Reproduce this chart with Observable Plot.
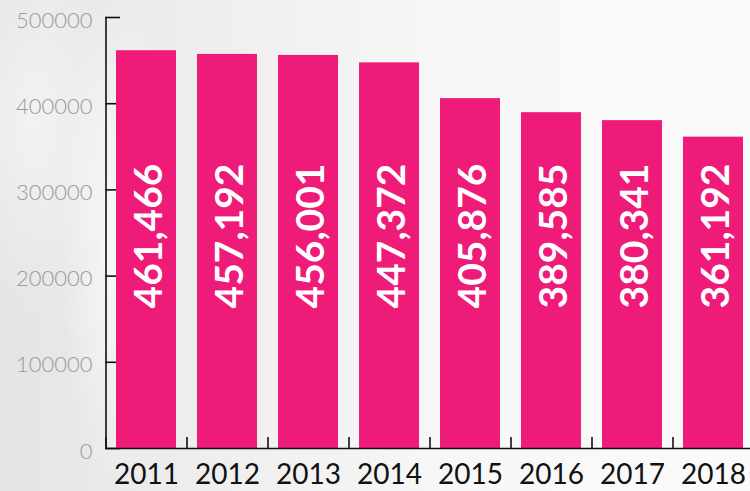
<!DOCTYPE html>
<html>
<head>
<meta charset="utf-8">
<script src="https://cdn.jsdelivr.net/npm/d3@7"></script>
<script src="https://cdn.jsdelivr.net/npm/@observablehq/plot@0.6"></script>
<style>
  html, body { margin: 0; padding: 0; overflow: hidden; }
  #chart {
    width: 750px; height: 491px; position: relative; overflow: hidden;
    background:
      radial-gradient(ellipse 60px 260px at 120px 240px, rgba(255,255,255,0.7), rgba(255,255,255,0) 100%),
      radial-gradient(ellipse 90px 200px at 30px 120px, rgba(255,255,255,0.5), rgba(255,255,255,0) 100%),
      linear-gradient(90deg, #e4e4e4 0px, #eeeeee 200px, #f7f7f7 450px, #fafafa 750px);
  }
  #chart svg { overflow: visible; background: transparent; }
</style>
</head>
<body>
<div id="chart"></div>
<script>
const years = ["2011", "2012", "2013", "2014", "2015", "2016", "2017", "2018"];
const values = [461466, 457192, 456001, 447372, 405876, 389585, 380341, 361192];
const yTicks = [0, 100000, 200000, 300000, 400000, 500000];

const data = years.map((year, i) => ({year, value: values[i]}));

const W = 750, ML = 105, MR = -3;
const step = (W - MR - ML) / years.length;
const pink = "#ee1b79";
const font = "Lato, 'Open Sans', sans-serif";

const plot = Plot.plot({
  width: W,
  height: 491,
  marginLeft: ML,
  marginRight: MR,
  marginTop: 17,
  marginBottom: 43,
  style: {background: "transparent", fontFamily: font},
  x: {domain: years, paddingInner: 0.26, paddingOuter: 0.13, align: 0.5, label: null},
  y: {domain: [0, 500000], label: null},
  marks: [
    // y axis inward ticks
    Plot.axisY({ticks: yTicks, tickSize: -15, tickFormat: () => "", label: null, stroke: "#111", strokeWidth: 1.6}),
    // y tick labels
    Plot.axisY({ticks: yTicks, tickSize: 0, tickPadding: 13, tickFormat: d => String(d), label: null,
      fill: "#9a9a9a", fontSize: 22, fontWeight: 300, dy: 3}),
    // y axis line at left edge of first band
    Plot.ruleX([years[0]], {dx: -step / 2, stroke: "#111", strokeWidth: 1.6}),
    // x boundary ticks pointing up
    Plot.axisX({tickSize: -11, tickFormat: () => "", label: null, dx: -step / 2, stroke: "#111", strokeWidth: 1.6}),
    Plot.barY(data, {x: "year", y: "value", fill: pink}),
    Plot.ruleY([0], {stroke: "#111", strokeWidth: 1.6}),
    // x labels
    Plot.axisX({tickSize: 0, tickPadding: 16, label: null, fill: "#111", fontSize: 28, fontWeight: 400}),
    // value labels
    Plot.text(data, {x: "year", text: d => d3.format(",")(d.value), frameAnchor: "middle",
      rotate: -90, fill: "white", fontSize: 39, fontWeight: "bold", dx: 3, dy: 3})
  ]
});
document.getElementById("chart").appendChild(plot);
</script>
</body>
</html>
